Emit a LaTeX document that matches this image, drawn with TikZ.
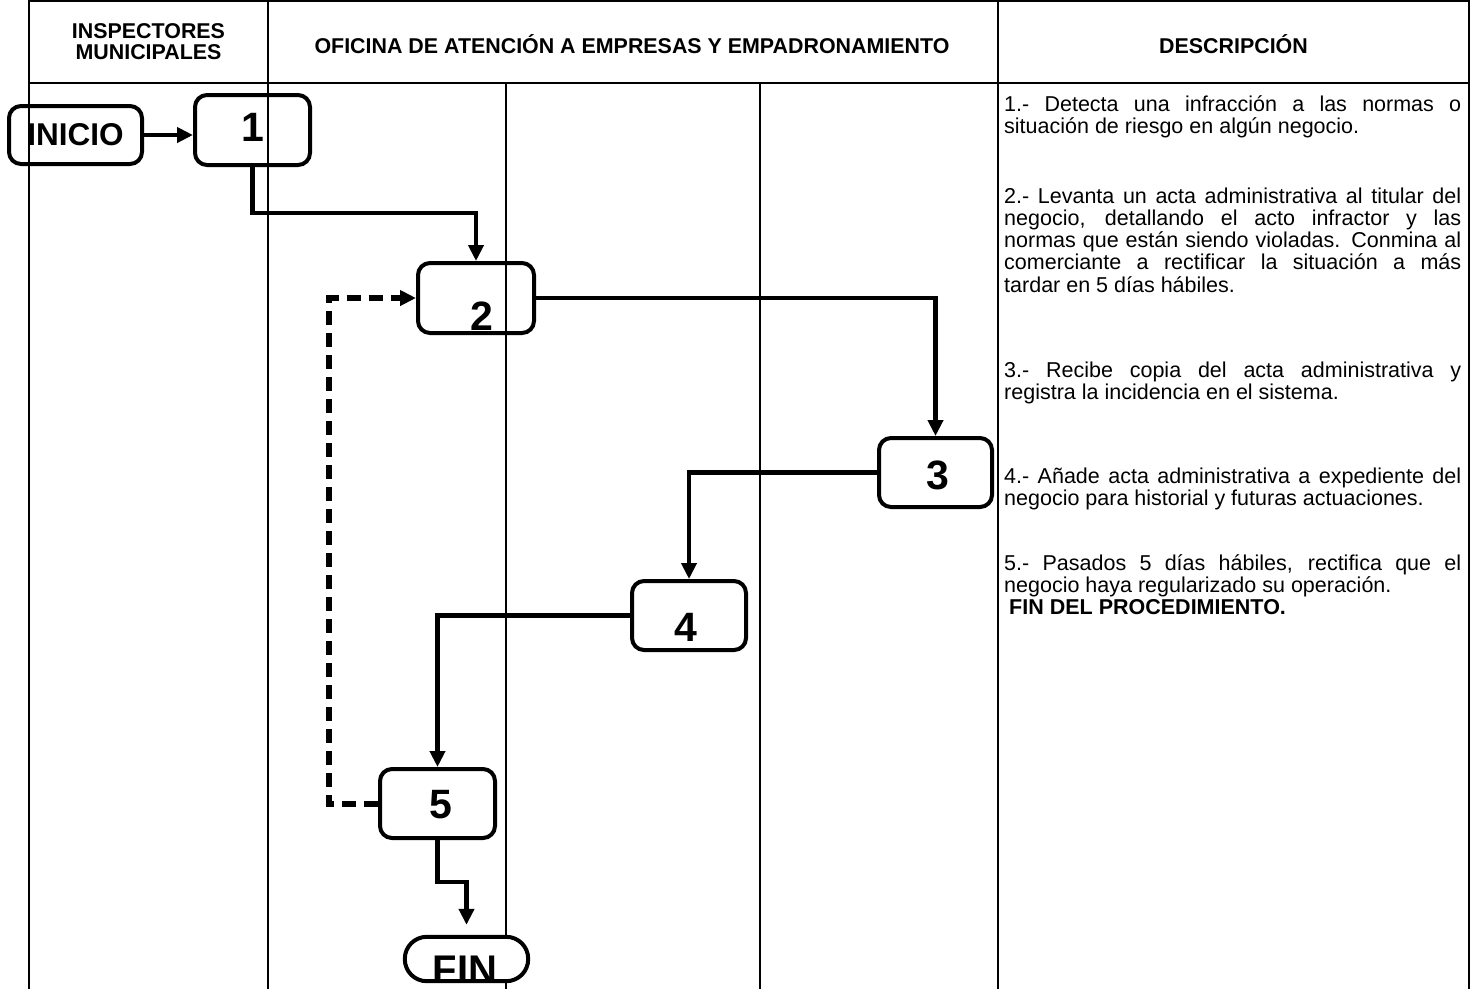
\documentclass[tikz,border=0pt]{standalone}
\usepackage{fontspec}
\setmainfont{Liberation Sans}
\usetikzlibrary{arrows.meta}
\begin{document}
\begin{tikzpicture}[x=1pt,y=-1pt,
  grid/.style={line width=1.4pt},
  stepbox/.style={draw, line width=4pt, rounded corners=12pt, inner sep=0pt, minimum width=115pt, minimum height=70pt},
  conn/.style={line width=4.2pt, -{Triangle[length=16pt,width=15pt]}},
  back/.style={line width=6pt, dash pattern=on 14pt off 8pt, -{Triangle[length=16pt,width=15pt]}},
  head/.style={font=\bfseries\fontsize{21.4}{21.5}\selectfont, align=center, inner sep=0pt},
  desc/.style={font=\fontsize{21.5}{22.3}\selectfont, text width=457pt, align=justify, inner sep=0pt, anchor=base west,
    execute at begin node={\hyphenpenalty=10000\tolerance=9999\emergencystretch=20pt}},
  lab/.style={font=\bfseries\fontsize{41}{41}\selectfont, inner sep=0pt}
]
\useasboundingbox (0,0) rectangle (1471,989);
% table
\draw[grid] (29,989) -- (29,1) -- (1469,1) -- (1469,989);
\draw[grid] (29,83) -- (1469,83);
\draw[grid] (268,1) -- (268,989);
\draw[grid] (998,1) -- (998,989);
\draw[grid] (506,83) -- (506,989);
\draw[grid] (760,83) -- (760,989);
% headers
\node[head] (h1) at (148.5,41.5) {INSPECTORES\\MUNICIPALES};
\node[head] (h2) at (632,44) {OFICINA DE ATENCIÓN A EMPRESAS Y EMPADRONAMIENTO};
\node[head] (h3) at (1233.5,44) {DESCRIPCIÓN};
% boxes
\node[stepbox, minimum width=133pt, minimum height=58pt, font=\bfseries\fontsize{31.5}{31.5}\selectfont] (ini) at (75.5,135) {INICIO};
\node[stepbox, label={[lab,xshift=0.5pt,yshift=2.5pt]center:1}] (n1) at (252.5,130) {};
\node[stepbox, minimum width=116pt, label={[lab,xshift=6pt,yshift=-18pt]center:2}] (n2) at (476,298) {};
\node[stepbox, minimum width=113pt, minimum height=69pt, label={[lab,xshift=2.5pt,yshift=-2.5pt]center:3}] (n3) at (935.5,472.5) {};
\node[stepbox, minimum width=114pt, minimum height=69pt, label={[lab,xshift=-3pt,yshift=-11.5pt]center:4}] (n4) at (689,615.5) {};
\node[stepbox, minimum height=69pt, label={[lab,xshift=3.5pt,yshift=-1.5pt]center:5}] (n5) at (437.5,803.5) {};
\node[fill=white, rounded corners=22pt, inner sep=0pt, minimum width=123pt, minimum height=44pt] (fin) at (466.5,959) {};
\node[font=\bfseries\fontsize{40}{40}\selectfont, inner sep=0pt] (fint) at (465,970) {FIN};
\draw[line width=4pt, rounded corners=22pt] (fin.north west) rectangle (fin.south east);
% connectors
\draw[conn] (ini.east) -- (ini.east -| n1.west);
\draw[conn] (n1.south) -- ++(0,46) -| (n2.north);
\draw[conn] (n2.east) -| (n3.north);
\draw[conn] (n3.west) -| (n4.north);
\draw[conn] (n4.west) -| (n5.north);
\draw[conn, shorten >=12pt] (n5.south) -- ++(0,42) -| (fin.north);
\draw[back] (n5.west) -- ++(-49,0) |- (n2.west);
% descriptions
\node[desc] (d1) at (1004,111) {1.- Detecta una infracción a las normas o\linebreak situación de riesgo en algún negocio.};
\node[desc] (d2) at (1004,203) {2.- Levanta un acta administrativa al titular del\linebreak negocio, detallando el acto infractor y las\linebreak normas que están siendo violadas. Conmina al\linebreak comerciante a rectificar la situación a más\linebreak tardar en 5 días hábiles.};
\node[desc] (d3) at (1004,377) {3.- Recibe copia del acta administrativa y\linebreak registra la incidencia en el sistema.};
\node[desc] (d4) at (1004,483) {4.- Añade acta administrativa a expediente del\linebreak negocio para historial y futuras actuaciones.};
\node[desc] (d5) at (1004,570) {5.- Pasados 5 días hábiles, rectifica que el\linebreak negocio haya regularizado su operación.\\\hspace*{5pt}\textbf{FIN DEL PROCEDIMIENTO.}};
\end{tikzpicture}
\end{document}
